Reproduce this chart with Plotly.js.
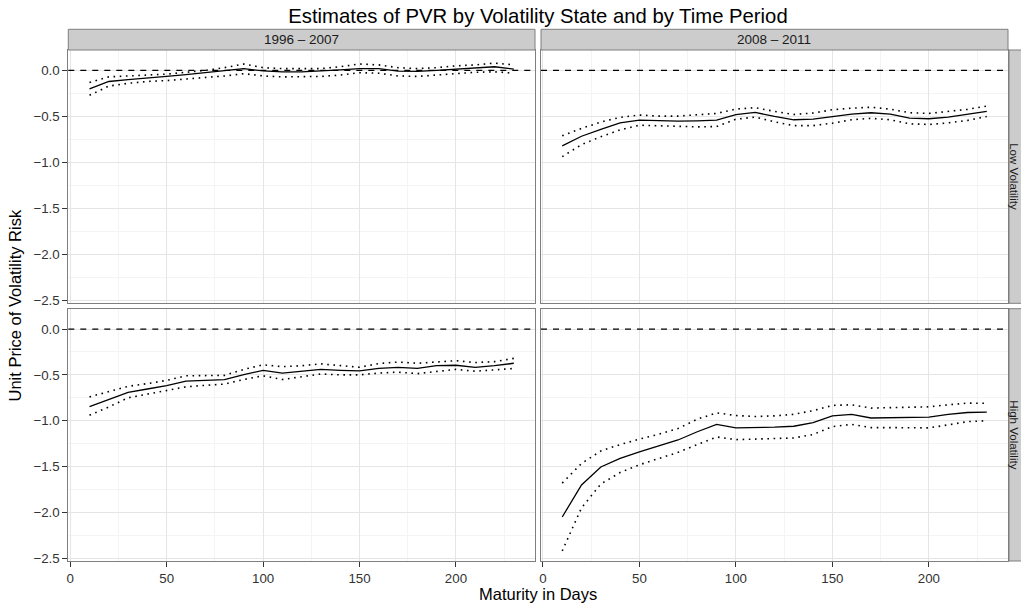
<!DOCTYPE html>
<html>
<head>
<meta charset="utf-8">
<script src="https://cdn.plot.ly/plotly-3.0.1.min.js"></script>
<style>html,body{margin:0;padding:0;background:#fff;}#chart{width:1021px;height:607px;}</style>
</head>
<body>
<div id="chart"></div>
<script>
// ---- data ----
const maturity = [10,20,30,40,50,60,70,80,90,100,110,120,130,140,150,160,170,180,190,200,210,220,230];

const periods = ["1996 \u2013 2007", "2008 \u2013 2011"];
const states = ["Low Volatility", "High Volatility"];

// Low volatility, 1996-2007
const lowEarlyEst   = [-0.20,-0.12,-0.10,-0.085,-0.065,-0.045,-0.025,0.00,0.02,-0.005,-0.015,-0.015,-0.007,0.007,0.02,0.02,-0.007,-0.01,0.0,0.015,0.025,0.04,0.015];
const lowEarlyUpper = [-0.13,-0.07,-0.06,-0.05,-0.04,-0.02,0.0,0.03,0.07,0.03,0.02,0.02,0.02,0.04,0.07,0.06,0.03,0.02,0.03,0.05,0.06,0.08,0.06];
const lowEarlyLower = [-0.27,-0.17,-0.14,-0.12,-0.11,-0.095,-0.08,-0.06,-0.035,-0.06,-0.07,-0.07,-0.065,-0.05,-0.025,-0.03,-0.06,-0.065,-0.05,-0.03,-0.02,-0.015,-0.03];

// Low volatility, 2008-2011
const lowLateEst   = [-0.82,-0.715,-0.64,-0.57,-0.54,-0.547,-0.55,-0.547,-0.54,-0.48,-0.456,-0.50,-0.536,-0.53,-0.50,-0.474,-0.46,-0.474,-0.518,-0.525,-0.507,-0.48,-0.445];
const lowLateUpper = [-0.71,-0.63,-0.56,-0.51,-0.485,-0.496,-0.496,-0.485,-0.467,-0.42,-0.405,-0.445,-0.478,-0.463,-0.427,-0.41,-0.40,-0.42,-0.46,-0.467,-0.445,-0.423,-0.387];
const lowLateLower = [-0.937,-0.806,-0.72,-0.646,-0.595,-0.60,-0.61,-0.613,-0.61,-0.53,-0.507,-0.558,-0.60,-0.60,-0.573,-0.536,-0.52,-0.536,-0.58,-0.587,-0.57,-0.543,-0.50];

// High volatility, 1996-2007
const highEarlyEst   = [-0.845,-0.767,-0.69,-0.654,-0.617,-0.567,-0.56,-0.552,-0.497,-0.45,-0.48,-0.464,-0.44,-0.45,-0.457,-0.428,-0.417,-0.43,-0.40,-0.395,-0.417,-0.40,-0.373];
const highEarlyUpper = [-0.74,-0.68,-0.625,-0.595,-0.56,-0.51,-0.505,-0.505,-0.44,-0.39,-0.41,-0.40,-0.38,-0.395,-0.417,-0.376,-0.36,-0.373,-0.355,-0.345,-0.365,-0.355,-0.32];
const highEarlyLower = [-0.94,-0.85,-0.75,-0.71,-0.67,-0.63,-0.614,-0.60,-0.55,-0.51,-0.55,-0.52,-0.49,-0.50,-0.50,-0.48,-0.47,-0.486,-0.46,-0.44,-0.46,-0.445,-0.43];

// High volatility, 2008-2011
const highLateEst   = [-2.05,-1.70,-1.505,-1.41,-1.34,-1.275,-1.21,-1.12,-1.04,-1.077,-1.077,-1.07,-1.06,-1.02,-0.947,-0.93,-0.97,-0.968,-0.96,-0.96,-0.93,-0.91,-0.906];
const highLateUpper = [-1.68,-1.466,-1.33,-1.26,-1.20,-1.148,-1.085,-0.983,-0.914,-0.943,-0.954,-0.947,-0.93,-0.89,-0.833,-0.826,-0.862,-0.86,-0.855,-0.848,-0.826,-0.808,-0.81];
const highLateLower = [-2.42,-1.95,-1.69,-1.565,-1.48,-1.41,-1.345,-1.26,-1.177,-1.206,-1.20,-1.195,-1.188,-1.15,-1.064,-1.04,-1.075,-1.075,-1.075,-1.078,-1.045,-1.01,-1.00];

const xTicks = [0,50,100,150,200];
const yTicks = [0,-0.5,-1,-1.5,-2,-2.5];
const yTickLabels = ["0.0","\u22120.5","\u22121.0","\u22121.5","\u22122.0","\u22122.5"];

// ---- build ----
const W = 1021, H = 607;
const FONT = "Liberation Sans, Arial, Helvetica, sans-serif";
const panels = [
  {xa:'x',  ya:'y',  est:lowEarlyEst,  up:lowEarlyUpper,  lo:lowEarlyLower},
  {xa:'x2', ya:'y2', est:lowLateEst,   up:lowLateUpper,   lo:lowLateLower},
  {xa:'x3', ya:'y3', est:highEarlyEst, up:highEarlyUpper, lo:highEarlyLower},
  {xa:'x4', ya:'y4', est:highLateEst,  up:highLateUpper,  lo:highLateLower}
];

const traces = [];
panels.forEach(p => {
  [['up','1.6px,4.6px',1.6],['lo','1.6px,4.6px',1.6],['est','solid',1.3]].forEach(([k,d,w]) => {
    traces.push({
      type:'scatter', mode:'lines', x:maturity, y:p[k],
      xaxis:p.xa, yaxis:p.ya,
      line:{color:'#000', width:w, dash:d},
      hoverinfo:'skip', showlegend:false
    });
  });
});

const colL = [68.3/W, 535/W], colR = [541/W, 1008/W];
const rowT = [(H-303.3)/H, (H-50)/H], rowB = [(H-561)/H, (H-308.7)/H];
const xr = [-1, 241], yr = [-2.53, 0.222];

function xax(dom, anchor, labels){
  return {domain:dom, anchor:anchor, range:xr, tickvals:xTicks, ticktext:xTicks.map(String),
    showticklabels:labels, ticks:labels?'outside':'', ticklen:5, tickwidth:1, tickcolor:'#333',
    tickfont:{family:FONT,size:13.3,color:'#333'},
    showgrid:true, gridcolor:'#E5E5E5', gridwidth:1, zeroline:false,
    minor:{dtick:25, tick0:0, showgrid:true, gridcolor:'#F4F4F4', gridwidth:1, ticks:''},
    showline:true, mirror:true, linecolor:'#7F7F7F', linewidth:1, fixedrange:true};
}
function yax(dom, anchor, labels){
  return {domain:dom, anchor:anchor, range:yr, tickvals:yTicks, ticktext:yTickLabels,
    showticklabels:labels, ticks:labels?'outside':'', ticklen:5, tickwidth:1, tickcolor:'#333',
    tickfont:{family:FONT,size:13.3,color:'#333'},
    showgrid:true, gridcolor:'#E5E5E5', gridwidth:1, zeroline:false,
    minor:{dtick:0.25, tick0:0, showgrid:true, gridcolor:'#F4F4F4', gridwidth:1, ticks:''},
    showline:true, mirror:true, linecolor:'#7F7F7F', linewidth:1, fixedrange:true};
}

const shapes = [];
// dashed zero reference lines
['', '2', '3', '4'].forEach(s => {
  shapes.push({type:'line', xref:'x'+s+' domain', yref:'y'+s, x0:0, x1:1, y0:0, y1:0,
    line:{color:'#000', width:1.3, dash:'6px,6px'}, layer:'above'});
});
// top strips
const stripTop = [(H-50)/H, (H-29.3)/H];
[colL, colR].forEach(c => shapes.push({type:'rect', xref:'paper', yref:'paper', x0:c[0], x1:c[1], y0:stripTop[0], y1:stripTop[1],
  fillcolor:'#CCCCCC', line:{color:'#7F7F7F', width:1}}));
// right strips
const stripR = [1009/W, 1031/W];
[rowT, rowB].forEach(r => shapes.push({type:'rect', xref:'paper', yref:'paper', x0:stripR[0], x1:stripR[1], y0:r[0], y1:r[1],
  fillcolor:'#CCCCCC', line:{color:'#7F7F7F', width:1}}));

const annotations = [];
[colL, colR].forEach((c,i) => annotations.push({xref:'paper', yref:'paper', x:(c[0]+c[1])/2, y:(stripTop[0]+stripTop[1])/2,
  text:periods[i], showarrow:false, xanchor:'center', yanchor:'middle', font:{family:FONT, size:13.5, color:'#1a1a1a'}}));
[rowT, rowB].forEach((r,i) => annotations.push({xref:'paper', yref:'paper', x:1014.5/W, y:(r[0]+r[1])/2,
  text:states[i], textangle:90, showarrow:false, xanchor:'center', yanchor:'middle', font:{family:FONT, size:11.5, color:'#1a1a1a'}}));
// axis titles
annotations.push({xref:'paper', yref:'paper', x:538/W, y:(H-594)/H, text:'Maturity in Days', showarrow:false,
  xanchor:'center', yanchor:'middle', font:{family:FONT, size:16.5, color:'#000'}});
annotations.push({xref:'paper', yref:'paper', x:15/W, y:(H-305.5)/H, text:'Unit Price of Volatility Risk', textangle:-90, showarrow:false,
  xanchor:'center', yanchor:'middle', font:{family:FONT, size:16.5, color:'#000'}});

const layout = {
  width:W, height:H, margin:{l:0,r:0,t:0,b:0},
  paper_bgcolor:'#fff', plot_bgcolor:'#fff', showlegend:false,
  title:{text:'Estimates of PVR by Volatility State and by Time Period', x:538/W, xanchor:'center',
    y:(H-16)/H, yanchor:'middle', yref:'container', font:{family:FONT, size:20.3, color:'#000'}},
  xaxis:xax(colL,'y',false), xaxis2:xax(colR,'y2',false),
  xaxis3:xax(colL,'y3',true), xaxis4:xax(colR,'y4',true),
  yaxis:yax(rowT,'x',true), yaxis2:yax(rowT,'x2',false),
  yaxis3:yax(rowB,'x3',true), yaxis4:yax(rowB,'x4',false),
  shapes:shapes, annotations:annotations
};

Plotly.newPlot('chart', traces, layout, {staticPlot:true, displayModeBar:false});
</script>
</body>
</html>
